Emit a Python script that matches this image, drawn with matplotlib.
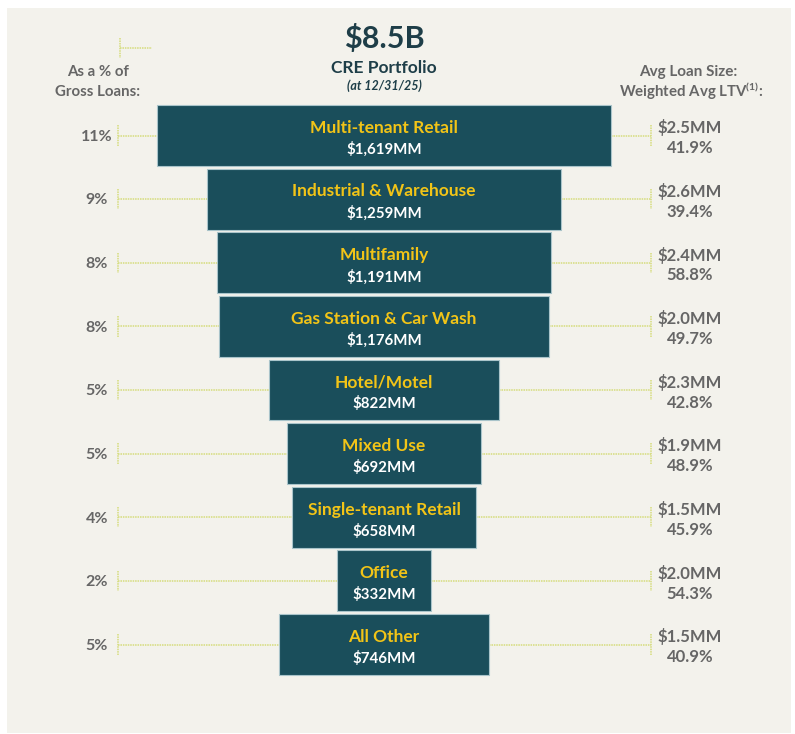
import matplotlib.pyplot as plt
from matplotlib.patches import Rectangle

plt.rcParams['font.family'] = ['Lato', 'DejaVu Sans']
plt.rcParams['mathtext.fontset'] = 'custom'
plt.rcParams['mathtext.rm'] = 'Lato'
plt.rcParams['mathtext.bf'] = 'Lato:bold'

# data
segments = ['Multi-tenant Retail', 'Industrial & Warehouse', 'Multifamily',
            'Gas Station & Car Wash', 'Hotel/Motel', 'Mixed Use',
            'Single-tenant Retail', 'Office', 'All Other']
balances = [1619, 1259, 1191, 1176, 822, 692, 658, 332, 746]   # $MM
pct_gross = ['11%', '9%', '8%', '8%', '5%', '5%', '4%', '2%', '5%']
avg_loan = ['$2.5MM', '$2.6MM', '$2.4MM', '$2.0MM', '$2.3MM',
            '$1.9MM', '$1.5MM', '$2.0MM', '$1.5MM']
avg_ltv = ['41.9%', '39.4%', '58.8%', '49.7%', '42.8%',
           '48.9%', '45.9%', '54.3%', '40.9%']

BAR = '#1A4E5B'
YEL = '#F2C417'
GRAY = '#666666'
DARK = '#1E3E48'
DOT = '#D5DC7C'

fig = plt.figure(figsize=(7.95, 7.34), dpi=100)
fig.patch.set_facecolor('white')

ax = fig.add_axes([0, 0, 1, 1])
ax.set_facecolor('none')
ax.add_patch(Rectangle((7 / 795, 1 - 733 / 734), 784 / 795, 725 / 734,
                       transform=fig.transFigure, facecolor='#F3F2EC',
                       edgecolor='none', zorder=0))
scale = 0.2805     # px per $MM
cx = 384
ax.set_xlim(-cx / scale, (795 - cx) / scale)
y0, pitch = 135.5, 63.625
ax.set_ylim((734 - y0) / pitch, -y0 / pitch)
ax.axis('off')


def px(x):
    return (x - cx) / scale


def py(y):
    return (y - y0) / pitch


ys = list(range(len(segments)))
lefts = [-b / 2 for b in balances]
ax.barh(ys, balances, left=lefts, height=0.955, color=BAR,
        edgecolor='#A9C4CA', linewidth=0.8, zorder=3)

xl, xr = px(118), px(651)
ls = (0, (1, 0.6))
for i, (name, b) in enumerate(zip(segments, balances)):
    ax.text(0, i - 0.12, name, ha='center', va='center', color=YEL,
            fontsize=12.5, fontweight='bold', zorder=4)
    ax.text(0, i + 0.22, f'${b:,}MM', ha='center', va='center', color='white',
            fontsize=10.8, fontweight='bold', zorder=4)
    # connector lines
    ax.plot([xl, -b / 2], [i, i], color=DOT, lw=1.1, ls=ls, zorder=2)
    ax.plot([b / 2, xr], [i, i], color=DOT, lw=1.1, ls=ls, zorder=2)
    ax.plot([xl, xl], [i - 0.16, i + 0.16], color=DOT, lw=1.1, ls=ls, zorder=2)
    ax.plot([xr, xr], [i - 0.16, i + 0.16], color=DOT, lw=1.1, ls=ls, zorder=2)
    ax.text(px(97), i + 0.02, pct_gross[i], ha='center', va='center', color=GRAY,
            fontsize=11.5, fontweight='bold')
    ax.text(px(690), i - 0.12, avg_loan[i], ha='center', va='center', color=GRAY,
            fontsize=12, fontweight='bold')
    ax.text(px(690), i + 0.2, avg_ltv[i], ha='center', va='center', color=GRAY,
            fontsize=12, fontweight='bold')

# header
ax.text(0, py(39), '$8.5B', ha='center', va='center', color=DARK,
        fontsize=22, fontweight='bold')
ax.text(0, py(68), 'CRE Portfolio', ha='center', va='center', color=DARK,
        fontsize=12.5, fontweight='bold')
ax.text(0, py(86), '(at 12/31/25)', ha='center', va='center', color=DARK,
        fontsize=9, fontweight='bold', style='italic')
ax.text(px(98), py(72), 'As a % of', ha='center', va='center', color=GRAY,
        fontsize=10.8, fontweight='bold')
ax.text(px(98), py(92), 'Gross Loans:', ha='center', va='center', color=GRAY,
        fontsize=10.8, fontweight='bold')
ax.text(px(688), py(72), 'Avg Loan Size:', ha='center', va='center', color=GRAY,
        fontsize=11, fontweight='bold')
ax.text(px(691), py(91), r'Weighted Avg LTV$^{\mathbf{(1)}}$:', ha='center',
        va='center', color=GRAY, fontsize=10.8, fontweight='bold')

# small decorative marker top-left
ax.plot([px(120), px(120)], [py(38), py(58)], color=DOT, lw=1.1, ls=ls)
ax.plot([px(120), px(152)], [py(48), py(48)], color=DOT, lw=1.1, ls=ls)

fig.savefig('out.png', dpi=100)
